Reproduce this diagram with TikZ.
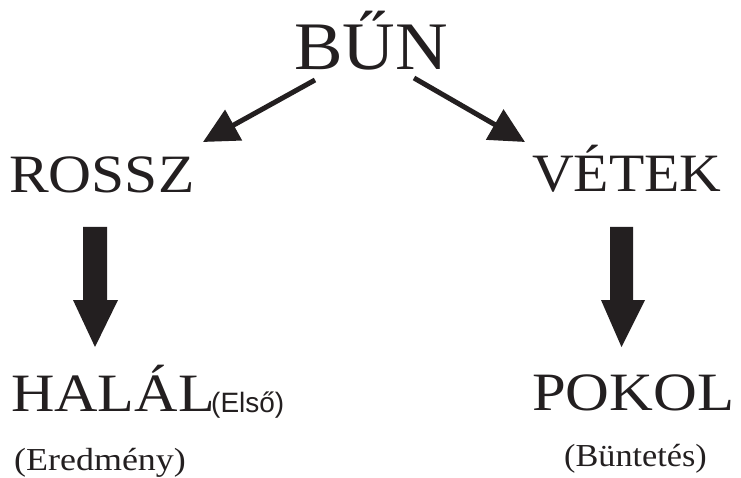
\documentclass[tikz,border=0pt]{standalone}
\usepackage{fontspec}
\setmainfont{Liberation Serif}[FakeStretch=1.07]
\newfontfamily\labelsans{Liberation Sans}
\usetikzlibrary{arrows.meta,calc}
\definecolor{ink}{HTML}{231F20}
\begin{document}
\begin{tikzpicture}[x=1pt,y=-1pt,
  word/.style={anchor=base west,inner sep=0pt,text=ink,font=\fontsize{54}{56}\selectfont},
  note/.style={anchor=base west,inner sep=0pt,text=ink,font=\fontsize{32}{34}\selectfont},
  thin arrow/.style={draw=ink,line width=5pt,-{Triangle[length=35pt,width=34pt]}},
  thick arrow/.style={fill=ink}]
\useasboundingbox (0,0) rectangle (741,478);
\fill[white] (0,0) rectangle (741,478);
\node[word,font=\fontsize{68}{70}\selectfont] (bun) at (294,70) {BŰN};
\node[word] (rossz) at (9,193) {\scalebox{1.03}[1]{ROSSZ}};
\node[word] (vetek) at (532,192) {VÉTEK};
\node[word] (halal) at (11,411) {\scalebox{1.04}[1]{HALÁL}};
\node[anchor=base west,inner sep=0pt,text=ink,font=\labelsans\fontsize{28}{30}\selectfont] (elso) at ($(halal.base east)+(-4,1)$) {(Első)};
\node[word] (pokol) at (532,410) {\scalebox{1.05}[1]{POKOL}};
\node[note] (eredmeny) at (14,470) {\scalebox{1.05}[1]{(Eredmény)}};
\node[note] (buntetes) at (564,466) {(Büntetés)};
% diagonal arrows
\coordinate (l1) at (315,80);
\coordinate (l2) at (203,142);
\coordinate (r1) at (414,78);
\coordinate (r2) at (525,142);
\draw[thin arrow] (l1) -- (l2);
\draw[thin arrow] (r1) -- (r2);
% thick downward arrows
\coordinate (la) at (95,227);
\coordinate (lb) at (95,347);
\coordinate (ra) at (621.5,227);
\coordinate (rb) at (621.5,347);
\fill[thick arrow] ($(la)+(-12,0)$) -- ($(la)+(12,0)$) -- ($(lb)+(12,-47)$) -- ($(lb)+(23,-47)$) -- (lb) -- ($(lb)+(-22,-47)$) -- ($(lb)+(-12,-47)$) -- cycle;
\fill[thick arrow] ($(ra)+(-11.5,0)$) -- ($(ra)+(11.5,0)$) -- ($(rb)+(11.5,-47)$) -- ($(rb)+(23.5,-47)$) -- (rb) -- ($(rb)+(-20.5,-47)$) -- ($(rb)+(-11.5,-47)$) -- cycle;
\end{tikzpicture}
\end{document}
